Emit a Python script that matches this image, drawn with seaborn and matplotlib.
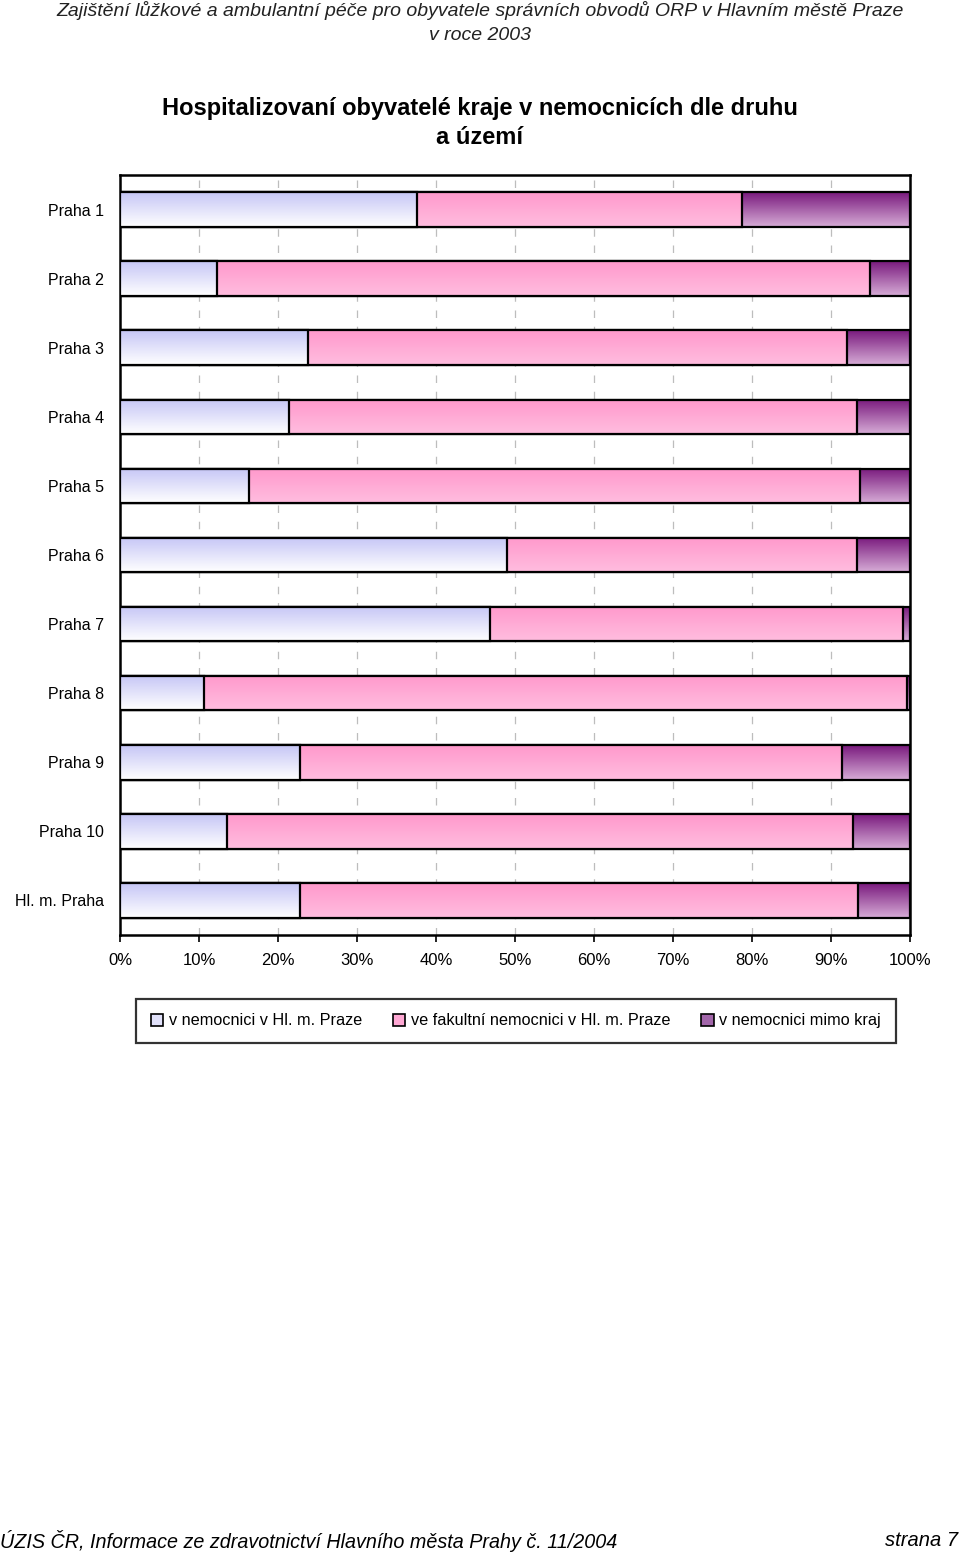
import numpy as np
import pandas as pd
import matplotlib
matplotlib.use("Agg")
import matplotlib.pyplot as plt
import matplotlib.colors as mcolors
from matplotlib.patches import Patch
import seaborn as sns

# Data (shares in %)
obvody = ["Praha 1", "Praha 2", "Praha 3", "Praha 4", "Praha 5", "Praha 6",
          "Praha 7", "Praha 8", "Praha 9", "Praha 10", "Hl. m. Praha"]
v_praze = [37.6, 12.3, 23.8, 21.4, 16.3, 49.0, 46.8, 10.6, 22.8, 13.5, 22.8]
v_fakultni = [41.1, 82.6, 68.2, 71.9, 77.4, 44.3, 52.3, 89.0, 68.6, 79.3, 70.6]
mimo_kraj = [21.3, 5.1, 8.0, 6.7, 6.3, 6.7, 0.9, 0.4, 8.6, 7.2, 6.6]
x_ticks = [0, 10, 20, 30, 40, 50, 60, 70, 80, 90, 100]
legend_labels = ["v nemocnici v Hl. m. Praze",
                 "ve fakultní nemocnici v Hl. m. Praze",
                 "v nemocnici mimo kraj"]

sns.set_style("white")
plt.rcParams["font.family"] = ["Liberation Sans Narrow", "Liberation Sans", "DejaVu Sans"]
plt.rcParams["text.color"] = "black"

df = pd.DataFrame({"obvod": obvody, "a": v_praze, "b": v_fakultni, "c": mimo_kraj})
df["cum2"] = df["a"] + df["b"]
df["cum3"] = df["cum2"] + df["c"]

fig = plt.figure(figsize=(9.6, 15.54), dpi=100)
ax = fig.add_axes([0.125, 0.3983, 0.823, 0.4891])

# back to front: cumulative totals, each with a vertical gradient (top, bottom)
layers = [
    ("cum3", "#7a1a7e", "#d6acd6"),
    ("cum2", "#ff99cc", "#ffbddf"),
    ("a", "#c6c6f6", "#ffffff"),
]

for i, (col, top, bottom) in enumerate(layers):
    n0 = len(ax.patches)
    sns.barplot(data=df, x=col, y="obvod", orient="h", width=0.5,
                color="white", ax=ax)
    c_top = np.array(mcolors.to_rgb(top))
    c_bot = np.array(mcolors.to_rgb(bottom))
    t = np.linspace(0, 1, 64)[:, None]
    grad = (c_top * (1 - t) + c_bot * t)[:, None, :]
    for p in ax.patches[n0:]:
        x0, y0 = p.get_x(), p.get_y()
        w, h = p.get_width(), p.get_height()
        im = ax.imshow(grad, extent=(x0, x0 + w, y0, y0 + h), origin="lower",
                       aspect="auto", zorder=2 * i + 1, interpolation="bilinear")
        im.set_clip_path(p)
        p.set_facecolor("none")
        p.set_edgecolor("black")
        p.set_linewidth(1.6)
        p.set_zorder(2 * i + 2)

ax.set_xlim(0, 100)
ax.set_ylim(len(obvody) - 0.5, -0.5)
ax.set_xticks(x_ticks)
ax.set_xticklabels([f"{v}%" for v in x_ticks], fontsize=12)
ax.tick_params(axis="x", bottom=True, length=5, width=1.2, pad=8,
               colors="black", labelcolor="black")
ax.tick_params(axis="y", left=False, pad=8, labelsize=11.5, labelcolor="black")
ax.set_xlabel("")
ax.set_ylabel("")
ax.set_axisbelow(True)
ax.xaxis.grid(True, linestyle=(0, (6, 7)), color="#bdbdbd", linewidth=0.9)
for s in ax.spines.values():
    s.set_visible(True)
    s.set_color("black")
    s.set_linewidth(1.8)

# legend
handles = [Patch(facecolor="#e2e2fb", edgecolor="black", linewidth=1.2),
           Patch(facecolor="#ffa8d4", edgecolor="black", linewidth=1.2),
           Patch(facecolor="#a266aa", edgecolor="black", linewidth=1.2)]
leg = fig.legend(handles, legend_labels, loc="center", bbox_to_anchor=(0.5375, 0.343),
                 ncol=3, fontsize=11.7, frameon=True, fancybox=False, edgecolor="black",
                 handlelength=0.75, handleheight=0.75, handletextpad=0.35,
                 columnspacing=1.9, borderpad=0.9)
leg.get_frame().set_linewidth(1.6)

# titles and page texts
fig.text(0.5, 1 - 11 / 1554, "Zajištění lůžkové a ambulantní péče pro obyvatele správních obvodů ORP v Hlavním městě Praze",
         ha="center", va="center", fontsize=14, style="italic", color="#222222")
fig.text(0.5, 1 - 35 / 1554, "v roce 2003", ha="center", va="center", fontsize=14,
         style="italic", color="#222222")
fig.text(0.5, 1 - 108 / 1554, "Hospitalizovaní obyvatelé kraje v nemocnicích dle druhu",
         ha="center", va="center", fontsize=17, fontweight="bold", color="black",
         family=["Liberation Sans", "DejaVu Sans"])
fig.text(0.5, 1 - 138 / 1554, "a území", ha="center", va="center", fontsize=17,
         fontweight="bold", color="black", family=["Liberation Sans", "DejaVu Sans"])
fig.text(0.0, 1 - 1541 / 1554, "ÚZIS ČR, Informace ze zdravotnictví Hlavního města Prahy č. 11/2004",
         ha="left", va="center", fontsize=14.2, style="italic", color="black")
fig.text(0.998, 1 - 1541 / 1554, "strana 7", ha="right", va="center", fontsize=14.5,
         style="italic", color="black")

fig.savefig("out.png", dpi=100)
